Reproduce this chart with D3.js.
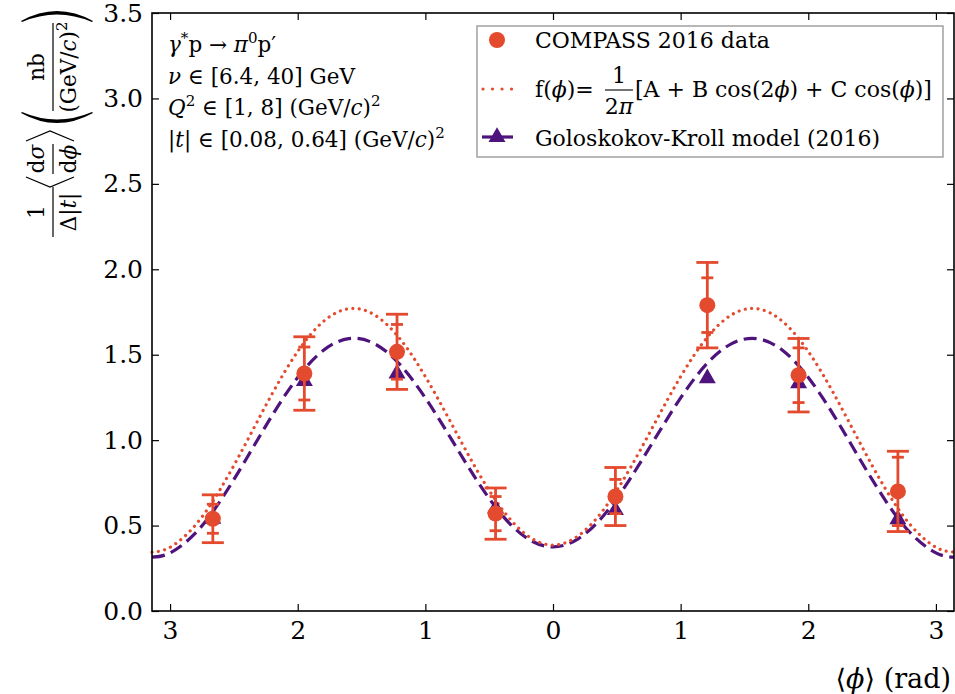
<!DOCTYPE html>
<html lang="en">
<head>
<meta charset="UTF-8">
<title>gamma* p -> pi0 p' : dsigma/dphi</title>
<script src="https://d3js.org/d3.v7.min.js"></script>
<style>
  body { margin: 0; background: #ffffff; }
  svg { display: block; font-family: 'DejaVu Serif', serif; }
  .tick text { font-family: 'DejaVu Serif', serif; font-size: 25px; fill: #000; }
  .tick line { stroke: #000; stroke-width: 1.2px; }
</style>
</head>
<body>
<svg id="chart" width="955" height="694"></svg>
<script>
// COMPASS 2016 data points
const phiData = [-2.665, -1.948, -1.222, -0.45, 0.489, 1.209, 1.924, 2.702];
const xsecData = [0.54, 1.39, 1.517, 0.57, 0.67, 1.79, 1.38, 0.70];
const errTot = [0.14, 0.215, 0.22, 0.15, 0.17, 0.25, 0.215, 0.235];
const errStat = [0.085, 0.155, 0.16, 0.10, 0.10, 0.16, 0.16, 0.20];

// Goloskokov-Kroll model values at the data phi
const gkPoints = [0.54, 1.345, 1.39, 0.60, 0.59, 1.362, 1.332, 0.537];

// curves
const phiGrid = [-3.1416, -3.0, -2.8, -2.6, -2.4, -2.2, -2.0, -1.8, -1.6, -1.4, -1.2, -1.0, -0.8, -0.6, -0.4, -0.2,
  0, 0.2, 0.4, 0.6, 0.8, 1.0, 1.2, 1.4, 1.6, 1.8, 2.0, 2.2, 2.4, 2.6, 2.8, 3.0, 3.1416];
const fitCurve = [0.345, 0.373, 0.504, 0.721, 0.991, 1.272, 1.519, 1.694, 1.769, 1.734, 1.594, 1.372, 1.103, 0.830, 0.597, 0.441,
  0.386, 0.441, 0.597, 0.830, 1.103, 1.372, 1.594, 1.734, 1.769, 1.694, 1.519, 1.272, 0.991, 0.721, 0.504, 0.373, 0.345];
const gkCurve = [0.315, 0.340, 0.457, 0.652, 0.894, 1.145, 1.367, 1.525, 1.594, 1.565, 1.443, 1.247, 1.010, 0.769, 0.562, 0.424,
  0.375, 0.424, 0.562, 0.769, 1.010, 1.247, 1.443, 1.565, 1.594, 1.525, 1.367, 1.145, 0.894, 0.652, 0.457, 0.340, 0.315];

const xTicks = [-3, -2, -1, 0, 1, 2, 3];
const yTicks = [0, 0.5, 1.0, 1.5, 2.0, 2.5, 3.0, 3.5];

const RED = "#e34a2e";
const PURPLE = "#4f137d";

const svg = d3.select("#chart");
const m = { l: 152, r: 954, t: 13, b: 611 };

const x = d3.scaleLinear().domain([-Math.PI, Math.PI]).range([m.l, m.r]);
const y = d3.scaleLinear().domain([0, 3.5]).range([m.b, m.t]);

// helper: text made of plain / italic / superscript parts
function rich(sel, parts, fs) {
  let up = false;
  parts.forEach(p => {
    const txt = typeof p === "string" ? p : p[0];
    const opt = typeof p === "string" ? "" : p[1];
    const ts = sel.append("tspan").text(txt);
    if (opt.includes("i")) ts.attr("font-style", "italic");
    if (opt.includes("s")) {
      ts.attr("font-size", fs * 0.7);
      if (!up) { ts.attr("dy", -fs * 0.42); up = true; }
    } else if (up) {
      ts.attr("dy", fs * 0.42); up = false;
    }
  });
  return sel;
}

// axes (ticks inside, on all four sides)
svg.append("g")
  .attr("transform", `translate(0,${m.b})`)
  .call(d3.axisBottom(x).tickValues(xTicks).tickSize(-7).tickSizeOuter(0).tickPadding(10)
    .tickFormat(d => Math.abs(d)))
  .call(g => g.select(".domain").remove());

svg.append("g")
  .attr("transform", `translate(0,${m.t})`)
  .call(d3.axisTop(x).tickValues(xTicks).tickSize(-7).tickSizeOuter(0).tickFormat(""))
  .call(g => g.select(".domain").remove());

svg.append("g")
  .attr("transform", `translate(${m.l},0)`)
  .call(d3.axisLeft(y).tickValues(yTicks).tickSize(-7).tickSizeOuter(0).tickPadding(9)
    .tickFormat(d3.format(".1f")))
  .call(g => g.select(".domain").remove());

svg.append("g")
  .attr("transform", `translate(${m.r},0)`)
  .call(d3.axisRight(y).tickValues(yTicks).tickSize(-7).tickSizeOuter(0).tickFormat(""))
  .call(g => g.select(".domain").remove());

// curves
const line = d3.line().x((d, i) => x(phiGrid[i])).y(d => y(d)).curve(d3.curveNatural);

svg.append("path")
  .attr("d", line(gkCurve))
  .attr("fill", "none")
  .attr("stroke", PURPLE)
  .attr("stroke-width", 3.2)
  .attr("stroke-dasharray", "13,6.5");

svg.append("path")
  .attr("d", line(fitCurve))
  .attr("fill", "none")
  .attr("stroke", RED)
  .attr("stroke-width", 3.2)
  .attr("stroke-linecap", "round")
  .attr("stroke-dasharray", "0.01,6.4");

// GK model triangles
const tri = d3.symbol().type(d3.symbolTriangle).size(125);
svg.append("g").selectAll("path")
  .data(gkPoints)
  .join("path")
  .attr("d", tri)
  .attr("transform", (d, i) => `translate(${x(phiData[i])},${y(d)})`)
  .attr("fill", PURPLE);

// error bars with total and inner caps
const eb = svg.append("g").attr("stroke", RED).attr("stroke-width", 2.8).attr("fill", "none");
phiData.forEach((p, i) => {
  const cx = x(p), v = xsecData[i];
  eb.append("line").attr("x1", cx).attr("x2", cx).attr("y1", y(v - errTot[i])).attr("y2", y(v + errTot[i]));
  [v - errTot[i], v + errTot[i]].forEach(e =>
    eb.append("line").attr("x1", cx - 11).attr("x2", cx + 11).attr("y1", y(e)).attr("y2", y(e)));
  [v - errStat[i], v + errStat[i]].forEach(e =>
    eb.append("line").attr("x1", cx - 6).attr("x2", cx + 6).attr("y1", y(e)).attr("y2", y(e)));
});

svg.append("g").selectAll("circle")
  .data(xsecData)
  .join("circle")
  .attr("cx", (d, i) => x(phiData[i]))
  .attr("cy", d => y(d))
  .attr("r", 8)
  .attr("fill", RED);

// frame
svg.append("rect")
  .attr("x", m.l).attr("y", m.t)
  .attr("width", m.r - m.l).attr("height", m.b - m.t)
  .attr("fill", "none").attr("stroke", "#000").attr("stroke-width", 1.6);

// kinematics text, top left
const kin = [
  [["γ", "i"], ["*", "s"], "p → ", ["π", "i"], ["0", "s"], "p′"],
  [["ν", "i"], " ∈ [6.4, 40] GeV"],
  [["Q", "i"], ["2", "s"], " ∈ [1, 8] (GeV/", ["c", "i"], ")", ["2", "s"]],
  ["|", ["t", "i"], "| ∈ [0.08, 0.64] (GeV/", ["c", "i"], ")", ["2", "s"]]
];
kin.forEach((parts, i) => {
  rich(svg.append("text").attr("x", 168).attr("y", 52 + i * 31.7).attr("font-size", 21.5), parts, 21.5);
});

// legend
const lg = svg.append("g");
lg.append("rect").attr("x", 477).attr("y", 26).attr("width", 466).attr("height", 131)
  .attr("fill", "#fff").attr("stroke", "#9a9a9a").attr("stroke-width", 1.4);
lg.append("circle").attr("cx", 497).attr("cy", 40).attr("r", 8).attr("fill", RED);
lg.append("text").attr("x", 535).attr("y", 48).attr("font-size", 22).text("COMPASS 2016 data");

lg.append("line").attr("x1", 483).attr("x2", 513).attr("y1", 89).attr("y2", 89)
  .attr("stroke", RED).attr("stroke-width", 3.2).attr("stroke-linecap", "round").attr("stroke-dasharray", "0.01,9.5");
rich(lg.append("text").attr("x", 535).attr("y", 97).attr("font-size", 22), ["f(", ["ϕ", "i"], ")="], 22);
lg.append("text").attr("x", 619).attr("y", 83).attr("font-size", 22).attr("text-anchor", "middle").text("1");
lg.append("line").attr("x1", 605).attr("x2", 633).attr("y1", 90).attr("y2", 90).attr("stroke", "#000").attr("stroke-width", 1.1);
rich(lg.append("text").attr("x", 619).attr("y", 114).attr("font-size", 22).attr("text-anchor", "middle"), ["2", ["π", "i"]], 22);
rich(lg.append("text").attr("x", 635).attr("y", 97).attr("font-size", 22),
  ["[A + B cos(2", ["ϕ", "i"], ") + C cos(", ["ϕ", "i"], ")]"], 22);

lg.append("line").attr("x1", 482).attr("x2", 513).attr("y1", 137).attr("y2", 137)
  .attr("stroke", PURPLE).attr("stroke-width", 3.2);
lg.append("path").attr("d", tri).attr("transform", "translate(497,137)").attr("fill", PURPLE);
lg.append("text").attr("x", 535).attr("y", 146).attr("font-size", 22).text("Goloskokov-Kroll model (2016)");

// y axis label, built rotated
const FS = 21.5;
const yl = svg.append("g").attr("transform", "translate(53,237) rotate(-90)").attr("font-size", FS);
function frac(cx, w, num, den) {
  rich(yl.append("text").attr("x", cx).attr("y", -9).attr("text-anchor", "middle"), num, FS);
  yl.append("line").attr("x1", cx - w / 2).attr("x2", cx + w / 2).attr("y1", 0).attr("y2", 0)
    .attr("stroke", "#000").attr("stroke-width", 1.2);
  rich(yl.append("text").attr("x", cx).attr("y", 23).attr("text-anchor", "middle"), den, FS);
}
frac(25, 50, ["1"], ["Δ|", ["t", "i"], "|"]);
frac(78, 30, ["d", ["σ", "i"]], ["d", ["ϕ", "i"]]);
frac(170, 88, ["nb"], ["(GeV/", ["c", "i"], ")", ["2", "s"]]);
const bracket = d3.line();
yl.append("path").attr("d", bracket([[60, -27], [50, -3], [60, 21]]))
  .attr("fill", "none").attr("stroke", "#000").attr("stroke-width", 1.3);
yl.append("path").attr("d", bracket([[96, -27], [106, -3], [96, 21]]))
  .attr("fill", "none").attr("stroke", "#000").attr("stroke-width", 1.3);
yl.append("path").attr("d", "M124,-32 Q104,4 124,40 L125,39 Q110,4 125,-31 Z").attr("fill", "#000");
yl.append("path").attr("d", "M216,-32 Q236,4 216,40 L215,39 Q230,4 215,-31 Z").attr("fill", "#000");

// x axis label
rich(svg.append("text").attr("x", 951).attr("y", 688).attr("font-size", 27).attr("text-anchor", "end"),
  ["⟨", ["ϕ", "i"], "⟩ (rad)"], 27);
</script>
</body>
</html>
